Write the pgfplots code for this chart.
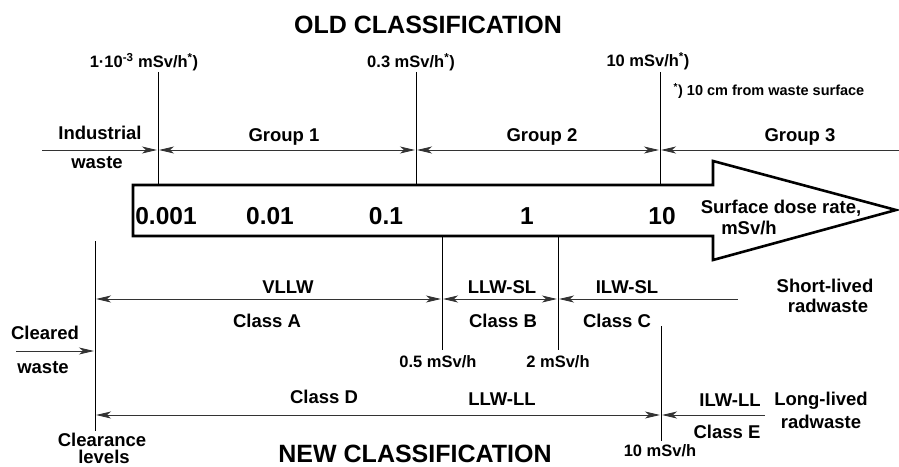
\documentclass[border=0pt]{standalone}
\usepackage{pgfplots}
\pgfplotsset{compat=1.18}
\usepackage{fontspec}
\setmainfont{Liberation Sans}
\usetikzlibrary{arrows.meta}
\tikzset{
  lab/.style={font=\fontsize{18.5bp}{20bp}\selectfont\bfseries, inner sep=0pt, anchor=center},
  sml/.style={font=\fontsize{16.5bp}{18bp}\selectfont\bfseries, inner sep=0pt, anchor=center},
  big/.style={font=\fontsize{24.5bp}{26bp}\selectfont\bfseries, inner sep=0pt, anchor=center},
  ttl/.style={font=\fontsize{25bp}{27bp}\selectfont\bfseries, inner sep=0pt, anchor=center},
  arr/.style={draw=black!80, line width=1bp},
}
\def\AH{Stealth[length=15bp,width=7bp,inset=4bp]}
\begin{document}
\begin{tikzpicture}
\begin{axis}[width=899bp, height=467bp, scale only axis,
  xmin=0, xmax=899, ymin=0, ymax=467, y dir=reverse,
  hide axis, clip=false]
% big arrow
\addplot[line width=2.6bp, fill=white, draw=black, line join=miter] coordinates {(133,185) (713,185) (713,161) (896,210) (713,260) (713,236) (133,236) (133,185)} -- cycle;
% vertical lines (old)
\addplot[black, line width=1bp] coordinates {(158,72) (158,185)};
\addplot[black, line width=1bp] coordinates {(416,72) (416,185)};
\addplot[black, line width=1bp] coordinates {(660,72) (660,185)};
% vertical lines (new)
\addplot[black, line width=1bp] coordinates {(95,241) (95,431)};
\addplot[black, line width=1bp] coordinates {(442,237) (442,350)};
\addplot[black, line width=1bp] coordinates {(558,237) (558,350)};
\addplot[black, line width=1bp] coordinates {(661,326) (661,441)};
% old arrows
\addplot[arr, -{\AH}] coordinates {(42,150) (157,150)};
\addplot[arr, {\AH}-{\AH}] coordinates {(159,150) (415,150)};
\addplot[arr, {\AH}-{\AH}] coordinates {(417,150) (659,150)};
\addplot[arr, {\AH}-] coordinates {(661,150) (899,150)};
% new arrows
\addplot[arr, {\AH}-{\AH}] coordinates {(96,299) (441,299)};
\addplot[arr, {\AH}-{\AH}] coordinates {(443,299) (557,299)};
\addplot[arr, {\AH}-] coordinates {(559,299) (738,299)};
\addplot[arr, -{\AH}] coordinates {(16,351) (94,351)};
\addplot[arr, {\AH}-{\AH}] coordinates {(96,415) (660,415)};
\addplot[arr, {\AH}-] coordinates {(662,415) (765,415)};
% texts
\node[ttl] at (axis cs:428,25) {OLD CLASSIFICATION};
\node[ttl] at (axis cs:415,454) {NEW CLASSIFICATION};
\node[sml] at (axis cs:144,62) {1·10\textsuperscript{-3} mSv/h\textsuperscript{*})};
\node[sml] at (axis cs:411,62) {0.3 mSv/h\textsuperscript{*})};
\node[sml] at (axis cs:648,61) {10 mSv/h\textsuperscript{*})};
\node[font=\fontsize{14.5bp}{16bp}\selectfont\bfseries, inner sep=0pt] at (axis cs:769,91) {\textsuperscript{*}) 10 cm from waste surface};
\node[lab] at (axis cs:100,133) {Industrial};
\node[lab] at (axis cs:97,163) {waste};
\node[lab] at (axis cs:284,137) {Group 1};
\node[lab] at (axis cs:542,137) {Group 2};
\node[lab] at (axis cs:800,137) {Group 3};
\node[big] at (axis cs:166,216) {0.001};
\node[big] at (axis cs:270,216) {0.01};
\node[big] at (axis cs:386,216) {0.1};
\node[big] at (axis cs:527,216) {1};
\node[big] at (axis cs:662,216) {10};
\node[lab] at (axis cs:781,208) {Surface dose rate,};
\node[lab] at (axis cs:749,228) {mSv/h};
\node[lab] at (axis cs:288,287) {VLLW};
\node[lab] at (axis cs:267,321) {Class A};
\node[lab] at (axis cs:502,287) {LLW-SL};
\node[lab] at (axis cs:503,321) {Class B};
\node[lab] at (axis cs:627,287) {ILW-SL};
\node[lab] at (axis cs:617,321) {Class C};
\node[lab] at (axis cs:825,286) {Short-lived};
\node[lab] at (axis cs:828,306) {radwaste};
\node[sml] at (axis cs:438,362) {0.5 mSv/h};
\node[sml] at (axis cs:558,362) {2 mSv/h};
\node[lab] at (axis cs:45,333) {Cleared};
\node[lab] at (axis cs:43,368) {waste};
\node[lab] at (axis cs:324,397) {Class D};
\node[lab] at (axis cs:502,399) {LLW-LL};
\node[lab] at (axis cs:730,400) {ILW-LL};
\node[lab] at (axis cs:727,432) {Class E};
\node[lab] at (axis cs:821,401) {Long-lived};
\node[lab] at (axis cs:821,422) {radwaste};
\node[sml] at (axis cs:660,451) {10 mSv/h};
\node[lab] at (axis cs:102,440) {Clearance};
\node[lab] at (axis cs:104,457) {levels};
\end{axis}
\pgfresetboundingbox
\path[use as bounding box] (0,0) rectangle (899bp,467bp);
\end{tikzpicture}
\end{document}
